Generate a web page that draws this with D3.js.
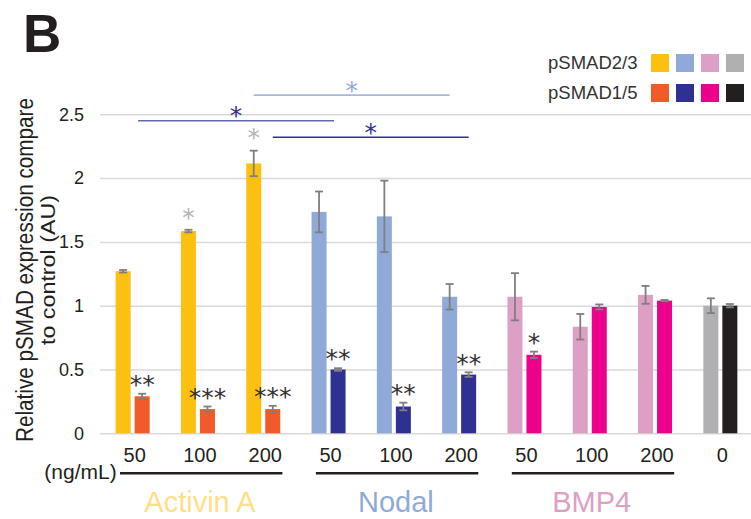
<!DOCTYPE html>
<html><head><meta charset="utf-8">
<script src="https://cdn.jsdelivr.net/npm/d3@7"></script>
<style>body{margin:0;background:#fff} svg{display:block;font-family:"Liberation Sans",Arial,sans-serif}</style>
</head><body><svg id="c" width="751" height="519"></svg>
<script>
// ---------- data ----------
const doses = ["50","100","200","50","100","200","50","100","200","0"];
const treatments = ["Activin A","Activin A","Activin A","Nodal","Nodal","Nodal","BMP4","BMP4","BMP4","Control"];
const treatmentNames = ["Activin A","Nodal","BMP4","Control"];
const seriesNames = ["pSMAD2/3","pSMAD1/5"];
const pSMAD23 = [1.27,1.585,2.115,1.735,1.70,1.07,1.07,0.835,1.085,1.0];
const pSMAD23Err = [0.01,0.01,0.10,0.16,0.28,0.10,0.185,0.10,0.07,0.058];
const pSMAD15 = [0.29,0.19,0.19,0.50,0.21,0.46,0.615,0.99,1.04,1.0];
const pSMAD15Err = [0.02,0.02,0.025,0.01,0.03,0.018,0.025,0.02,0.005,0.013];
const sig23 = ["","*","*","","","","","","",""];
const sig15 = ["**","***","***","**","**","**","*","","",""];
const yTicks = [0,0.5,1,1.5,2,2.5];
const colors23 = ["#fcc010","#8faad9","#dc9fc6","#b0b0b3"];
const colors15 = ["#f15a29","#2e3192","#ec008c","#231f20"];
const nameColors = ["#fedf88","#8faad9","#dc9fc6"];
const comparisons = [
  {from:2,to:5,series:0,level:2.65,mark:"*",line:"#a5b9df",markColor:"#94acd8"},
  {from:0,to:3,series:-1,level:2.45,mark:"*",line:"#6367ad",markColor:"#2e3192"},
  {from:2,to:5,series:1,level:2.32,mark:"*",line:"#2e3192",markColor:"#2e3192"}
];
const unitLabel = "(ng/mL)";
const yTitle = ["Relative pSMAD expression compare","to control (AU)"];
const panelLabel = "B";

// ---------- layout ----------
const svg = d3.select("#c");
const ink = "#231f20";
const x0 = d3.scaleBand().domain(d3.range(doses.length)).range([100,753]).padding(0);
const bw = 15, gap = 4, step = bw + gap;
const po = (x0.bandwidth()/step - 2 + gap/step)/2;
const x1 = d3.scaleBand().domain([0,1]).range([0,x0.bandwidth()]).paddingInner(gap/step).paddingOuter(po);
const y = d3.scaleLinear().domain([0,2.5]).range([433.3,114.3]);
const ci = i => treatmentNames.indexOf(treatments[i]);
const barCx = (i,s) => x0(i) + x1(s) + x1.bandwidth()/2;

// grid + y labels
const ax = svg.append("g").attr("transform","translate(100,0)")
  .call(d3.axisLeft(y).tickValues(yTicks).tickSize(-651).tickPadding(16).tickFormat(d3.format("")));
ax.select(".domain").remove();
ax.selectAll(".tick line").attr("stroke","#d9d9d9").attr("stroke-width",1.5);
ax.selectAll(".tick text").attr("font-size",18).attr("fill",ink).attr("font-family","Liberation Sans, Arial, sans-serif");

// bars
const series = [
  {vals:pSMAD23, err:pSMAD23Err, cols:colors23},
  {vals:pSMAD15, err:pSMAD15Err, cols:colors15}
];
series.forEach((s,si) => {
  const g = svg.append("g");
  g.selectAll("rect").data(s.vals).join("rect")
    .attr("x",(d,i)=>x0(i)+x1(si)).attr("width",x1.bandwidth())
    .attr("y",d=>y(d)).attr("height",d=>y(0)-y(d))
    .attr("fill",(d,i)=>s.cols[ci(i)]);
  const e = svg.append("g").attr("stroke","#7f7f7f").attr("stroke-width",1.8).attr("fill","none");
  s.vals.forEach((v,i)=>{
    const cx = barCx(i,si), t = y(v+s.err[i]), b = y(v-s.err[i]);
    e.append("line").attr("x1",cx).attr("x2",cx).attr("y1",t).attr("y2",b);
    e.append("line").attr("x1",cx-4).attr("x2",cx+4).attr("y1",t).attr("y2",t);
    e.append("line").attr("x1",cx-4).attr("x2",cx+4).attr("y1",b).attr("y2",b);
  });
});

// asterisks
const astFs = 25;
function star(x, cy, txt, col){
  svg.append("text").attr("x",x).attr("y",cy + 0.59*astFs).attr("text-anchor","middle")
    .attr("font-family","DejaVu Sans").attr("font-size",astFs).attr("fill",col).text(txt);
}
sig15.forEach((m,i)=>{ if(m) star(barCx(i,1), y(pSMAD15[i]+pSMAD15Err[i]) - 15.5, m, "#333"); });
sig23.forEach((m,i)=>{ if(m) star(barCx(i,0), y(pSMAD23[i]+pSMAD23Err[i]) - 19, m, "#b3b3b3"); });

comparisons.forEach(c=>{
  const xa = c.series < 0 ? x0(c.from)+x0.bandwidth()/2+5.5 : barCx(c.from,c.series);
  const xb = c.series < 0 ? x0(c.to)+x0.bandwidth()/2+5.5 : barCx(c.to,c.series);
  const yy = y(c.level);
  svg.append("line").attr("x1",xa).attr("x2",xb).attr("y1",yy).attr("y2",yy)
    .attr("stroke",c.line).attr("stroke-width",1.6);
  star((xa+xb)/2, yy-11.3, c.mark, c.markColor);
});

// x labels
svg.append("g").selectAll("text").data(doses).join("text")
  .attr("x",(d,i)=>x0(i)+x0.bandwidth()/2+2).attr("y",462)
  .attr("text-anchor","middle").attr("font-size",20).attr("fill",ink).text(d=>d);
svg.append("text").attr("x",116.7).attr("y",478.5).attr("text-anchor","end")
  .attr("font-size",21).attr("fill",ink).text(unitLabel);

// treatment underlines + names
treatmentNames.slice(0,3).forEach((t,k)=>{
  const idx = d3.range(doses.length).filter(i=>treatments[i]===t);
  const a = x0(idx[0]) + 20, b = x0(idx[idx.length-1]) + x0.bandwidth() - 13.5;
  svg.append("line").attr("x1",a).attr("x2",b).attr("y1",473.3).attr("y2",473.3)
    .attr("stroke",ink).attr("stroke-width",2.5);
  const mid = idx[Math.floor(idx.length/2)];
  svg.append("text").attr("x",x0(mid)+x0.bandwidth()/2+2).attr("y",512)
    .attr("text-anchor","middle").attr("font-size",29).attr("fill",nameColors[k]).text(t);
});

// y title
const yt = svg.append("g").attr("transform","translate(0,270) rotate(-90)");
yt.append("text").attr("x",0).attr("y",32.7).attr("text-anchor","middle").attr("font-size",23)
  .attr("textLength",344).attr("lengthAdjust","spacingAndGlyphs").attr("fill",ink).text(yTitle[0]);
yt.append("text").attr("x",0).attr("y",55).attr("text-anchor","middle").attr("font-size",20)
  .attr("textLength",150).attr("lengthAdjust","spacingAndGlyphs").attr("fill",ink).text(yTitle[1]);

// legend
const leg = svg.append("g");
[colors23, colors15].forEach((cols,r)=>{
  leg.append("text").attr("x",548).attr("y",68.5+30*r).attr("font-size",18.5).attr("fill","#333").text(seriesNames[r]);
  cols.forEach((c,k)=>{
    leg.append("rect").attr("x",651+25*k).attr("y",54+30*r).attr("width",18).attr("height",18).attr("fill",c);
  });
});

// panel label
svg.append("text").attr("x",23).attr("y",52).attr("font-size",53).attr("font-weight","bold").attr("fill",ink).text(panelLabel);
</script></body></html>
